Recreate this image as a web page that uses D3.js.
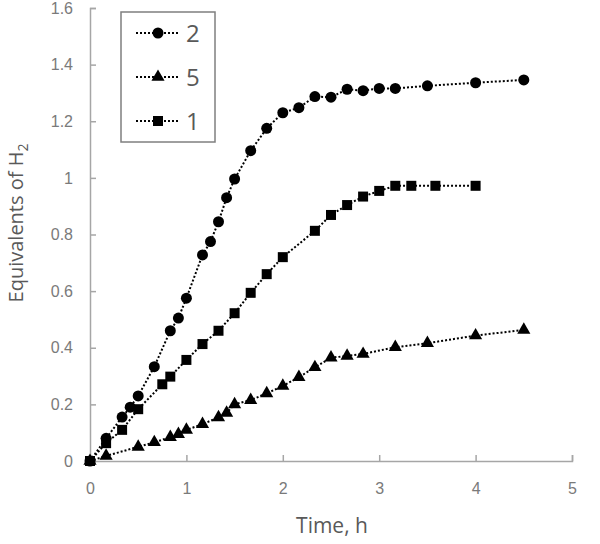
<!DOCTYPE html>
<html>
<head>
<meta charset="utf-8">
<style>
    body { margin: 0; background: white; }
    svg { display: block; font-family: 'Open Sans', 'Noto Sans', sans-serif; }
    .axis .domain { stroke: #a6a6a6; stroke-width: 1.5px; }
    .axis .tick line { stroke: #a6a6a6; stroke-width: 1.5px; }
    .axis .tick text { fill: #7a7a7a; font-size: 16px; }
</style>
</head>
<body>
<svg width="600" height="544"></svg>
<script src="https://d3js.org/d3.v7.min.js"></script>
<script>
    // series "2" (circles)
    let time2 = [0, 0.167, 0.333, 0.417, 0.5, 0.667, 0.833, 0.917, 1.0, 1.167, 1.25, 1.333, 1.417, 1.5, 1.667, 1.833, 2.0, 2.167, 2.333, 2.5, 2.667, 2.833, 3.0, 3.167, 3.5, 4.0, 4.5]
    let eq2 = [0, 0.08, 0.155, 0.19, 0.23, 0.333, 0.46, 0.505, 0.575, 0.728, 0.775, 0.845, 0.93, 0.996, 1.096, 1.175, 1.23, 1.248, 1.287, 1.285, 1.313, 1.308, 1.316, 1.316, 1.325, 1.336, 1.346]

    // series "5" (triangles)
    let time5 = [0, 0.167, 0.5, 0.667, 0.833, 0.917, 1.0, 1.167, 1.333, 1.417, 1.5, 1.667, 1.833, 2.0, 2.167, 2.333, 2.5, 2.667, 2.833, 3.167, 3.5, 4.0, 4.5]
    let eq5 = [0, 0.018, 0.05, 0.066, 0.084, 0.095, 0.11, 0.13, 0.154, 0.17, 0.2, 0.215, 0.239, 0.265, 0.296, 0.331, 0.365, 0.371, 0.378, 0.402, 0.416, 0.443, 0.463]

    // series "1" (squares)
    let time1 = [0, 0.167, 0.333, 0.5, 0.75, 0.833, 1.0, 1.167, 1.333, 1.5, 1.667, 1.833, 2.0, 2.333, 2.5, 2.667, 2.833, 3.0, 3.167, 3.333, 3.583, 4.0]
    let eq1 = [0, 0.063, 0.11, 0.183, 0.271, 0.298, 0.357, 0.413, 0.46, 0.522, 0.594, 0.66, 0.72, 0.813, 0.869, 0.904, 0.934, 0.954, 0.972, 0.972, 0.972, 0.972]

    let seriesNames = ["2", "5", "1"]
    let xTicks = [0, 1, 2, 3, 4, 5]
    let yTicks = [0, 0.2, 0.4, 0.6, 0.8, 1, 1.2, 1.4, 1.6]

    let svg = d3.select("svg")

    let x = d3.scaleLinear().domain([0, 5]).range([90, 572])
    let y = d3.scaleLinear().domain([0, 1.6]).range([461, 8])

    let xAxis = svg.append("g")
        .attr("class", "x axis")
        .attr("transform", "translate(0," + y(0) + ")")
        .call(d3.axisBottom(x).tickValues(xTicks).tickSize(-6).tickSizeOuter(-6).tickPadding(22).tickFormat(d3.format("d")))

    let yAxis = svg.append("g")
        .attr("class", "y axis")
        .attr("transform", "translate(" + x(0) + ",0)")
        .call(d3.axisLeft(y).tickValues(yTicks).tickSize(-6).tickSizeOuter(-6).tickPadding(17).tickFormat(d => d3.format("")(+d.toFixed(1))))

    let series = [
        { name: seriesNames[0], xs: time2, ys: eq2, shape: d3.symbolCircle, size: 95 },
        { name: seriesNames[1], xs: time5, ys: eq5, shape: d3.symbolTriangle, size: 75 },
        { name: seriesNames[2], xs: time1, ys: eq1, shape: d3.symbolSquare, size: 100 }
    ]

    let line = d3.line().x(d => x(d[0])).y(d => y(d[1]))

    series.forEach(function (s) {
        let pts = s.xs.map((t, i) => [t, s.ys[i]])
        svg.append("path")
            .attr("d", line(pts))
            .style("fill", "none")
            .style("stroke", "#000")
            .style("stroke-width", 2)
            .style("stroke-dasharray", "2,2")
        svg.selectAll(null)
            .data(pts)
            .enter()
            .append("path")
            .attr("d", d3.symbol().type(s.shape).size(s.size))
            .attr("transform", d => "translate(" + x(d[0]) + "," + y(d[1]) + ")")
            .style("fill", "#000")
    })

    // legend
    let legend = svg.append("g")
    legend.append("rect")
        .attr("x", 121).attr("y", 12)
        .attr("width", 94).attr("height", 130)
        .style("fill", "white")
        .style("stroke", "#7f7f7f")
        .style("stroke-width", 1.5)

    series.forEach(function (s, i) {
        let ly = 33 + i * 44
        legend.append("line")
            .attr("x1", 136).attr("x2", 179)
            .attr("y1", ly).attr("y2", ly)
            .style("stroke", "#000")
            .style("stroke-width", 2)
            .style("stroke-dasharray", "2,2")
        legend.append("path")
            .attr("d", d3.symbol().type(s.shape).size(s.size))
            .attr("transform", "translate(158," + ly + ")")
            .style("fill", "#000")
        legend.append("text")
            .text(s.name)
            .attr("x", 186).attr("y", ly + 8.5)
            .attr("fill", "#595959")
            .attr("font-size", "24px")
    })

    // axis titles
    svg.append("text")
        .text("Time, h")
        .attr("x", 332).attr("y", 533)
        .attr("text-anchor", "middle")
        .attr("fill", "#595959")
        .attr("font-size", "21px")

    let ylab = svg.append("text")
        .attr("transform", "translate(23,223) rotate(-90)")
        .attr("text-anchor", "middle")
        .attr("fill", "#595959")
        .attr("font-size", "20px")
    ylab.append("tspan").text("Equivalents of H")
    ylab.append("tspan").text("2").attr("font-size", "14px").attr("dy", 5)
</script>
</body>
</html>
